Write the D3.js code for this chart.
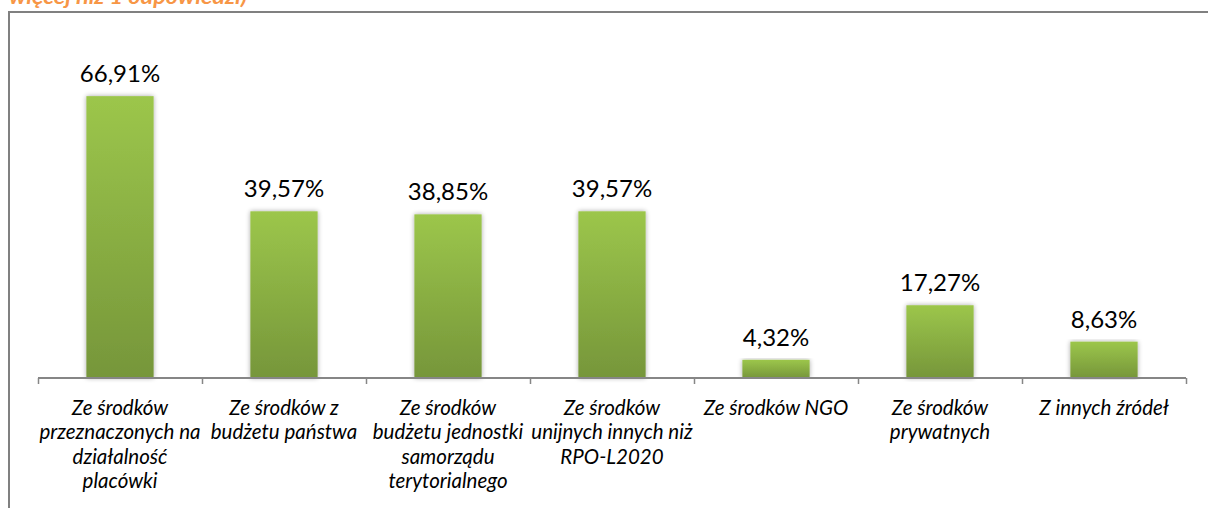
<!DOCTYPE html>
<html><head><meta charset="utf-8">
<script src="https://cdn.jsdelivr.net/npm/d3@7"></script>
<style>
html,body{margin:0;padding:0;background:#fff;overflow:hidden;}
svg{display:block;}
</style></head>
<body>
<svg id="chart" width="1208" height="508"></svg>
<script>
const titleText = "więcej niż 1 odpowiedzi)";
const categories = [
  "Ze środków przeznaczonych na działalność placówki",
  "Ze środków z budżetu państwa",
  "Ze środków budżetu jednostki samorządu terytorialnego",
  "Ze środków unijnych innych niż RPO-L2020",
  "Ze środków NGO",
  "Ze środków prywatnych",
  "Z innych źródeł"
];
const categoryLines = [
  ["Ze środków", "przeznaczonych na", "działalność", "placówki"],
  ["Ze środków z", "budżetu państwa"],
  ["Ze środków", "budżetu jednostki", "samorządu", "terytorialnego"],
  ["Ze środków", "unijnych innych niż", "RPO-L2020"],
  ["Ze środków NGO"],
  ["Ze środków", "prywatnych"],
  ["Z innych źródeł"]
];
const values = [66.91, 39.57, 38.85, 39.57, 4.32, 17.27, 8.63];
const valueLabels = ["66,91%", "39,57%", "38,85%", "39,57%", "4,32%", "17,27%", "8,63%"];

const svg = d3.select("#chart");
const defs = svg.append("defs");
const grad = defs.append("linearGradient").attr("id","barGrad").attr("x1",0).attr("y1",0).attr("x2",0).attr("y2",1);
grad.append("stop").attr("offset","0%").attr("stop-color","#9cc64b");
grad.append("stop").attr("offset","100%").attr("stop-color","#76963a");
const flt = defs.append("filter").attr("id","shadow").attr("x","-20%").attr("y","-5%").attr("width","140%").attr("height","110%");
flt.append("feGaussianBlur").attr("in","SourceAlpha").attr("stdDeviation",2.5).attr("result","b");
flt.append("feComponentTransfer").attr("in","b").attr("result","c").append("feFuncA").attr("type","linear").attr("slope",0.35);
const fm = flt.append("feMerge");
fm.append("feMergeNode").attr("in","c");
fm.append("feMergeNode").attr("in","SourceGraphic");

// title (clipped at top, as in the reference)
svg.append("text").attr("x", 9).attr("y", 4)
  .attr("font-family","Lato, 'Open Sans', sans-serif").attr("font-weight","bold").attr("font-style","italic")
  .attr("font-size", 21).attr("fill","#f79646")
  .attr("textLength", 238).attr("lengthAdjust","spacingAndGlyphs").text(titleText);

// frame
svg.append("path").attr("d","M9,508 V12 H1210").attr("fill","none").attr("stroke","#808080").attr("stroke-width",2);

const x = d3.scaleBand().domain(categories).range([38, 1186]).paddingInner(0.59).paddingOuter(0.295);
const y = d3.scaleLinear().domain([0, 80]).range([378, 41]);

svg.append("g").selectAll("rect").data(values).join("rect")
  .attr("x",(d,i)=>x(categories[i])).attr("width",x.bandwidth())
  .attr("y",d=>y(d)).attr("height",d=>y(0)-y(d))
  .attr("fill","url(#barGrad)").attr("filter","url(#shadow)");

// axis
const axisG = svg.append("g").attr("transform","translate(0,378)");
const xb = d3.scaleLinear().domain([0, categories.length]).range([38, 1186]);
axisG.call(d3.axisBottom(xb).tickValues(d3.range(0, categories.length+1)).tickSize(6).tickFormat(""));
axisG.select(".domain").attr("stroke","#868686").attr("stroke-width",2).attr("d","M38,0H1186");
axisG.selectAll(".tick line").attr("stroke","#868686").attr("stroke-width",1.5);

// value labels
svg.append("g").selectAll("text").data(values).join("text")
  .attr("x",(d,i)=>x(categories[i])+x.bandwidth()/2).attr("y",d=>y(d)-14)
  .attr("text-anchor","middle").attr("font-family","Lato, sans-serif").attr("font-size",24)
  .attr("fill","#000").text((d,i)=>valueLabels[i]);

// category labels
const cl = svg.append("g");
categoryLines.forEach((lines,i)=>{
  const t = cl.append("text").attr("text-anchor","middle")
    .attr("font-family","Lato, sans-serif").attr("font-style","italic").attr("font-size",20.5).attr("fill","#000");
  lines.forEach((ln,j)=>{
    t.append("tspan").attr("x", x(categories[i])+x.bandwidth()/2).attr("y", 415 + j*24.3).text(ln);
  });
});
</script>
</body></html>
